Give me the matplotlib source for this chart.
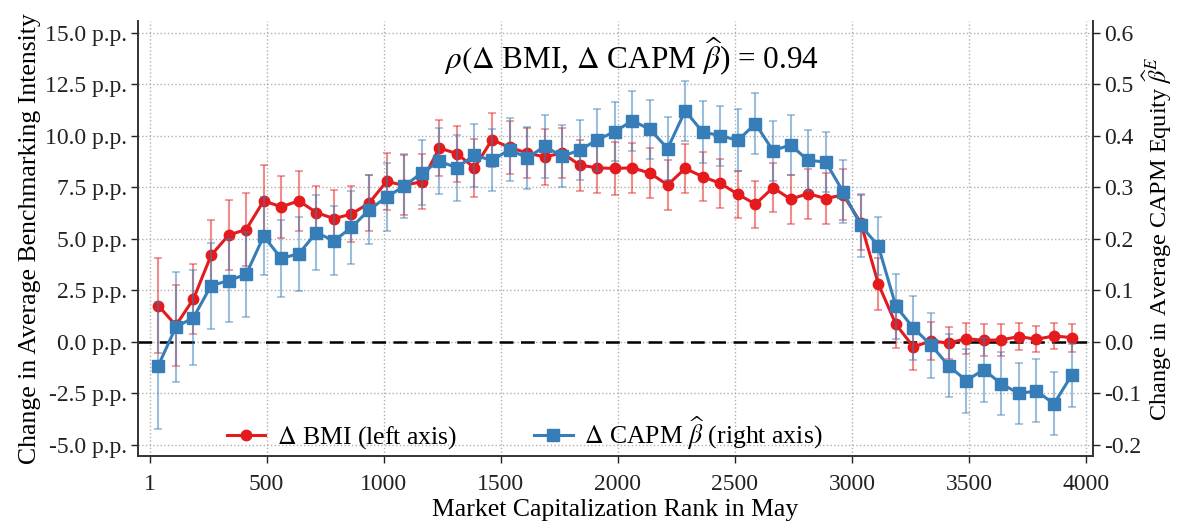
import numpy as np
import matplotlib
matplotlib.use('Agg')
import matplotlib.pyplot as plt
from matplotlib.ticker import FuncFormatter

######################################################################

# bin centres of market capitalization ranks (bins of 75)
ranks = np.arange(37.5, 4000, 75)

bmi = [1.76, 0.80, 2.08, 4.19, 5.18, 5.45, 6.84, 6.55, 6.84, 6.27,
       5.98, 6.20, 6.73, 7.78, 7.59, 7.77, 9.40, 9.13, 8.44, 9.80,
       9.43, 9.16, 8.97, 9.16, 8.57, 8.44, 8.41, 8.44, 8.18, 7.61,
       8.41, 8.01, 7.69, 7.16, 6.68, 7.48, 6.92, 7.19, 6.95, 7.13,
       5.77, 2.81, 0.85, -0.24, 0.05, -0.06, 0.16, 0.08, 0.10, 0.26,
       0.13, 0.29, 0.21]

bmi_err = [2.30, 1.96, 1.70, 1.70, 1.70, 1.75, 1.75, 1.50, 1.45, 1.30,
           1.37, 1.36, 1.37, 1.38, 1.45, 1.32, 1.36, 1.36, 1.40, 1.30,
           1.30, 1.23, 1.34, 1.20, 1.24, 1.20, 1.27, 1.20, 1.22, 1.20,
           1.20, 1.20, 1.20, 1.14, 1.14, 1.18, 1.18, 1.21, 1.22, 1.24,
           1.33, 1.24, 1.16, 1.12, 0.94, 0.76, 0.74, 0.78, 0.76, 0.64,
           0.63, 0.64, 0.68]

beta = [-0.046, 0.029, 0.047, 0.109, 0.119, 0.131, 0.205, 0.162, 0.171, 0.212,
        0.196, 0.222, 0.256, 0.281, 0.302, 0.328, 0.350, 0.338, 0.362, 0.352,
        0.373, 0.357, 0.379, 0.360, 0.372, 0.392, 0.408, 0.429, 0.412, 0.375,
        0.448, 0.407, 0.400, 0.391, 0.423, 0.371, 0.382, 0.352, 0.349, 0.291,
        0.226, 0.186, 0.069, 0.027, -0.006, -0.046, -0.075, -0.054, -0.081, -0.100,
        -0.095, -0.120, -0.065]

beta_err = [0.123, 0.107, 0.092, 0.083, 0.081, 0.083, 0.076, 0.074, 0.072, 0.073,
            0.067, 0.071, 0.067, 0.065, 0.062, 0.063, 0.064, 0.064, 0.061, 0.060,
            0.061, 0.060, 0.061, 0.060, 0.058, 0.060, 0.057, 0.058, 0.057, 0.061,
            0.058, 0.061, 0.058, 0.060, 0.059, 0.058, 0.058, 0.059, 0.058, 0.061,
            0.061, 0.056, 0.063, 0.062, 0.063, 0.061, 0.062, 0.062, 0.061, 0.059,
            0.061, 0.061, 0.061]

x_ticks = [1, 500, 1000, 1500, 2000, 2500, 3000, 3500, 4000]
left_ticks = [-5.0, -2.5, 0.0, 2.5, 5.0, 7.5, 10.0, 12.5, 15.0]
right_ticks = [-0.2, -0.1, 0.0, 0.1, 0.2, 0.3, 0.4, 0.5, 0.6]

rho_text = r'$\rho(\Delta$ BMI, $\Delta$ CAPM $\widehat{\beta}$) = 0.94'

######################################################################

plt.rcParams['font.family'] = ['Liberation Serif', 'DejaVu Serif']
plt.rcParams['mathtext.fontset'] = 'stix'

red = '#e41a1c'
blue = '#377eb8'

fig = plt.figure(figsize = (11.78, 5.29), dpi = 100)
ax = fig.add_axes([0.117, 0.138, 0.811, 0.822])
ax2 = ax.twinx()

ylo, yhi = -5.53, 15.55
ax.set_ylim(ylo, yhi)
ax2.set_ylim(ylo * 0.04, yhi * 0.04)
ax.set_xlim(-50, 4030)

ax.axhline(0, color = 'black', linestyle = (0, (5.5, 3)), linewidth = 1.8, zorder = 2)

ax.errorbar(ranks, bmi, yerr = bmi_err, fmt = 'none', ecolor = red,
            alpha = 0.5, capsize = 3, elinewidth = 1.5, capthick = 1.2, zorder = 2)
ax.plot(ranks, bmi, color = red, marker = 'o', markersize = 7.5,
        linewidth = 2.2, zorder = 3)

ax2.errorbar(ranks, beta, yerr = beta_err, fmt = 'none', ecolor = blue,
             alpha = 0.5, capsize = 3, elinewidth = 1.5, capthick = 1.2, zorder = 2)
ax2.plot(ranks, beta, color = blue, marker = 's', markersize = 8,
         linewidth = 2.2, zorder = 3)

ax.set_xticks(x_ticks)
ax.set_yticks(left_ticks)
ax.yaxis.set_major_formatter(FuncFormatter(lambda v, p: '%.1f p.p.' % v))
ax2.set_yticks(right_ticks)
ax2.yaxis.set_major_formatter(FuncFormatter(lambda v, p: '%.1f' % v))

ax.grid(True, linestyle = ':', color = '#b0b0b0', linewidth = 1)

for a in (ax, ax2):
    a.spines['top'].set_visible(False)
    for s in ('left', 'right', 'bottom'):
        a.spines[s].set_color('#333333')
        a.spines[s].set_linewidth(1.2)
    a.tick_params(labelsize = 17, length = 5, width = 1, colors = '#222222', pad = 3)
ax.tick_params(axis = 'x', pad = 8)

ax.set_xlabel('Market Capitalization Rank in May', fontsize = 18.5, labelpad = 3)
ax.set_ylabel('Change in Average Benchmarking Intensity', fontsize = 18.5, labelpad = 3)
ax2.set_ylabel(r'Change in Average CAPM Equity $\widehat{\beta}^E$', fontsize = 17.5)
ax2.yaxis.set_label_coords(1.050, 0.5)

ax2.text(0.517, 0.917, rho_text, transform = ax2.transAxes, ha = 'center',
         va = 'center', fontsize = 22.5)

h1 = plt.Line2D([], [], color = red, marker = 'o', markersize = 7.5, linewidth = 2.2)
h2 = plt.Line2D([], [], color = blue, marker = 's', markersize = 8, linewidth = 2.2)
ax2.legend([h1, h2], [r'$\Delta$ BMI (left axis)', r'$\Delta$ CAPM $\widehat{\beta}$ (right axis)'],
           loc = 'lower center', bbox_to_anchor = (0.405, -0.043), ncol = 2,
           frameon = False, fontsize = 18.5, columnspacing = 3.0, handlelength = 1.5,
           handletextpad = 0.45)

fig.savefig('out.png', dpi = 100)
